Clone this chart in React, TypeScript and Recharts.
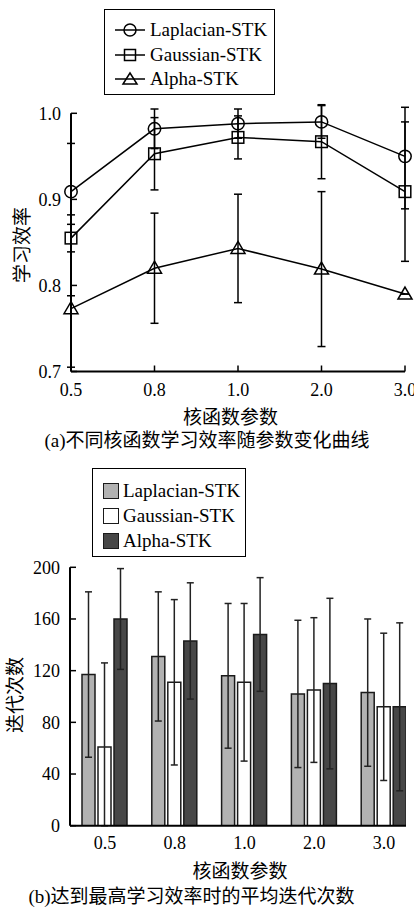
import React from "react";
import {
  LineChart,
  Line,
  BarChart,
  Bar,
  XAxis,
  YAxis,
  ErrorBar,
  ReferenceLine,
} from "recharts";

const params = ["0.5", "0.8", "1.0", "2.0", "3.0"];

// (a) learning efficiency per kernel
const laplacianEff = [0.909, 0.982, 0.988, 0.99, 0.95];
const gaussianEff = [0.855, 0.953, 0.972, 0.967, 0.909];
const alphaEff = [0.773, 0.82, 0.843, 0.819, 0.79];
// [lower, upper]
const laplacianEffErr = [[0.027, 0.056], [0.023, 0.023], [0.017, 0.017], [0.019, 0.019], [0.061, 0.057]];
const gaussianEffErr = [[0.016, 0.016], [0.042, 0.042], [0.025, 0.025], [0.043, 0.043], [0.081, 0.081]];
const alphaEffErr = [[0.068, 0.015], [0.064, 0.064], [0.063, 0.063], [0.09, 0.09], [0, 0]];
const effTicks = [0.7, 0.8, 0.9, 1.0];

// (b) mean iterations to best efficiency
const laplacianIter = [117, 131, 116, 102, 103];
const gaussianIter = [61, 111, 111, 105, 92];
const alphaIter = [160, 143, 148, 110, 92];
// [lower, upper]
const laplacianIterErr = [[64, 64], [50, 50], [56, 56], [57, 57], [57, 57]];
const gaussianIterErr = [[61, 65], [64, 64], [61, 61], [56, 56], [57, 57]];
const alphaIterErr = [[39, 39], [45, 45], [44, 44], [66, 66], [65, 65]];
const iterTicks = [0, 40, 80, 120, 160, 200];

const effData = params.map((p, i) => ({
  param: p,
  lap: laplacianEff[i],
  lapErr: laplacianEffErr[i],
  gau: gaussianEff[i],
  gauErr: gaussianEffErr[i],
  alp: alphaEff[i],
  alpErr: alphaEffErr[i],
}));

const iterData = params.map((p, i) => ({
  param: p,
  lap: laplacianIter[i],
  lapErr: laplacianIterErr[i],
  gau: gaussianIter[i],
  gauErr: gaussianIterErr[i],
  alp: alphaIter[i],
  alpErr: alphaIterErr[i],
}));

const serif = "'Liberation Serif', 'Noto Sans CJK SC', serif";
const tickStyle = { fill: "#000", fontSize: 18, fontFamily: serif };
const axisStyle = { stroke: "#000", strokeWidth: 2 };
const tickLineStyle = { stroke: "#000", strokeWidth: 1.5 };

const GRAY = "#b2b2b2";
const DARK = "#474747";

const CircleDot = (p: any) => (
  <circle key={`c${p.index}`} cx={p.cx} cy={p.cy} r={6.2} fill="none" stroke="#000" strokeWidth={1.5} />
);
const SquareDot = (p: any) => (
  <rect key={`s${p.index}`} x={p.cx - 5.8} y={p.cy - 5.8} width={11.6} height={11.6} fill="none" stroke="#000" strokeWidth={1.5} />
);
const TriangleDot = (p: any) => (
  <path
    key={`t${p.index}`}
    d={`M${p.cx},${p.cy - 7} L${p.cx + 7},${p.cy + 5} L${p.cx - 7},${p.cy + 5} Z`}
    fill="none"
    stroke="#000"
    strokeWidth={1.5}
  />
);

const lineLegend = [
  { name: "Laplacian-STK", marker: "circle" },
  { name: "Gaussian-STK", marker: "square" },
  { name: "Alpha-STK", marker: "triangle" },
];
const barLegend = [
  { name: "Laplacian-STK", fill: GRAY },
  { name: "Gaussian-STK", fill: "#fff" },
  { name: "Alpha-STK", fill: DARK },
];

const LineIcon = ({ marker }: { marker: string }) => (
  <svg width={32} height={16} style={{ position: "absolute", left: 9, top: 4 }}>
    <line x1={1} y1={8} x2={31} y2={8} stroke="#000" strokeWidth={1.5} />
    {marker === "circle" && <circle cx={16} cy={8} r={6} fill="none" stroke="#000" strokeWidth={1.5} />}
    {marker === "square" && <rect x={10.5} y={2.5} width={11} height={11} fill="none" stroke="#000" strokeWidth={1.5} />}
    {marker === "triangle" && <path d="M16,2 L23,13 L9,13 Z" fill="none" stroke="#000" strokeWidth={1.5} />}
  </svg>
);

const textStyle: React.CSSProperties = {
  position: "absolute",
  fontFamily: serif,
  fontSize: 19,
  color: "#000",
  whiteSpace: "nowrap",
  lineHeight: "20px",
};

export default function App() {
  return (
    <div style={{ position: "fixed", left: 0, top: 0, width: 414, height: 908, background: "#fff", overflow: "hidden" }}>
      {/* (a) */}
      <div style={{ position: "absolute", left: 0, top: 0 }}>
        <LineChart width={414} height={460} data={effData} margin={{ top: 104.7, right: 9, bottom: 0, left: 11 }}>
          <XAxis
            dataKey="param"
            interval={0}
            height={88.5}
            tickSize={-6}
            tickMargin={17.5}
            axisLine={axisStyle}
            tickLine={tickLineStyle}
            tick={tickStyle}
          />
          <YAxis
            domain={[0.7, 1.01]}
            ticks={effTicks}
            width={60}
            tickSize={-6}
            tickMargin={16}
            axisLine={false}
            tickLine={tickLineStyle}
            tick={tickStyle}
            tickFormatter={(v: number) => v.toFixed(1)}
          />
          <ReferenceLine
            segment={[
              { x: "0.5", y: 0.7 },
              { x: "0.5", y: 1.0 },
            ]}
            stroke="#000"
            strokeWidth={2}
          />
          <Line dataKey="lap" stroke="#000" strokeWidth={1.5} dot={CircleDot} isAnimationActive={false}>
            <ErrorBar dataKey="lapErr" direction="y" width={4} stroke="#000" strokeWidth={1.5} />
          </Line>
          <Line dataKey="gau" stroke="#000" strokeWidth={1.5} dot={SquareDot} isAnimationActive={false}>
            <ErrorBar dataKey="gauErr" direction="y" width={4} stroke="#000" strokeWidth={1.5} />
          </Line>
          <Line dataKey="alp" stroke="#000" strokeWidth={1.5} dot={TriangleDot} isAnimationActive={false}>
            <ErrorBar dataKey="alpErr" direction="y" width={4} stroke="#000" strokeWidth={1.5} />
          </Line>
        </LineChart>
      </div>

      {/* (b) */}
      <div style={{ position: "absolute", left: 0, top: 460, width: 406, height: 448, overflow: "hidden" }}>
        <BarChart
          width={430}
          height={448}
          data={iterData}
          margin={{ top: 107.3, right: 11, bottom: 0, left: 10 }}
          barSize={13}
          barGap={3}
        >
          <XAxis
            dataKey="param"
            interval={0}
            height={82.3}
            tickSize={0}
            tickMargin={11}
            axisLine={axisStyle}
            tickLine={false}
            tick={tickStyle}
          />
          <YAxis
            domain={[0, 200]}
            ticks={iterTicks}
            allowDataOverflow
            width={60}
            tickSize={-6}
            tickMargin={16}
            axisLine={axisStyle}
            tickLine={tickLineStyle}
            tick={tickStyle}
          />
          <Bar dataKey="lap" fill={GRAY} stroke="#1a1a1a" strokeWidth={1.5} isAnimationActive={false}>
            <ErrorBar dataKey="lapErr" direction="y" width={3.5} stroke="#222" strokeWidth={1.5} />
          </Bar>
          <Bar dataKey="gau" fill="#fff" stroke="#1a1a1a" strokeWidth={1.5} isAnimationActive={false}>
            <ErrorBar dataKey="gauErr" direction="y" width={3.5} stroke="#222" strokeWidth={1.5} />
          </Bar>
          <Bar dataKey="alp" fill={DARK} stroke="#1a1a1a" strokeWidth={1.5} isAnimationActive={false}>
            <ErrorBar dataKey="alpErr" direction="y" width={3.5} stroke="#222" strokeWidth={1.5} />
          </Bar>
        </BarChart>
      </div>

      {/* legend (a) */}
      <div
        style={{
          position: "absolute",
          left: 104,
          top: 9,
          width: 171,
          height: 86,
          boxSizing: "border-box",
          border: "1.5px solid #000",
          background: "#fff",
        }}
      >
        {lineLegend.map((item, i) => (
          <div key={item.name} style={{ position: "absolute", left: 0, top: 8 + i * 24.5, width: 168, height: 24 }}>
            <LineIcon marker={item.marker} />
            <span style={{ ...textStyle, left: 45, top: 2 }}>{item.name}</span>
          </div>
        ))}
      </div>

      {/* legend (b) */}
      <div
        style={{
          position: "absolute",
          left: 92,
          top: 468,
          width: 154,
          height: 89,
          boxSizing: "border-box",
          border: "1.5px solid #000",
          background: "#fff",
        }}
      >
        {barLegend.map((item, i) => (
          <div key={item.name} style={{ position: "absolute", left: 0, top: 10 + i * 25, width: 150, height: 24 }}>
            <div
              style={{
                position: "absolute",
                left: 9.5,
                top: 4,
                width: 16,
                height: 16,
                boxSizing: "border-box",
                border: "1.5px solid #1a1a1a",
                background: item.fill,
              }}
            />
            <span style={{ ...textStyle, left: 30, top: 2 }}>{item.name}</span>
          </div>
        ))}
      </div>

      {/* axis titles & captions */}
      <div style={{ ...textStyle, left: 22.5, top: 245, transform: "translate(-50%, -50%) rotate(-90deg)" }}>学习效率</div>
      <div style={{ ...textStyle, left: 230.5, top: 417.5, transform: "translate(-50%, -50%)" }}>核函数参数</div>
      <div style={{ ...textStyle, left: 207, top: 441, transform: "translate(-50%, -50%)" }}>(a)不同核函数学习效率随参数变化曲线</div>

      <div style={{ ...textStyle, left: 16, top: 695, transform: "translate(-50%, -50%) rotate(-90deg)" }}>迭代次数</div>
      <div style={{ ...textStyle, left: 240, top: 872, transform: "translate(-50%, -50%)" }}>核函数参数</div>
      <div style={{ ...textStyle, left: 191.5, top: 897, transform: "translate(-50%, -50%)" }}>(b)达到最高学习效率时的平均迭代次数</div>
    </div>
  );
}
